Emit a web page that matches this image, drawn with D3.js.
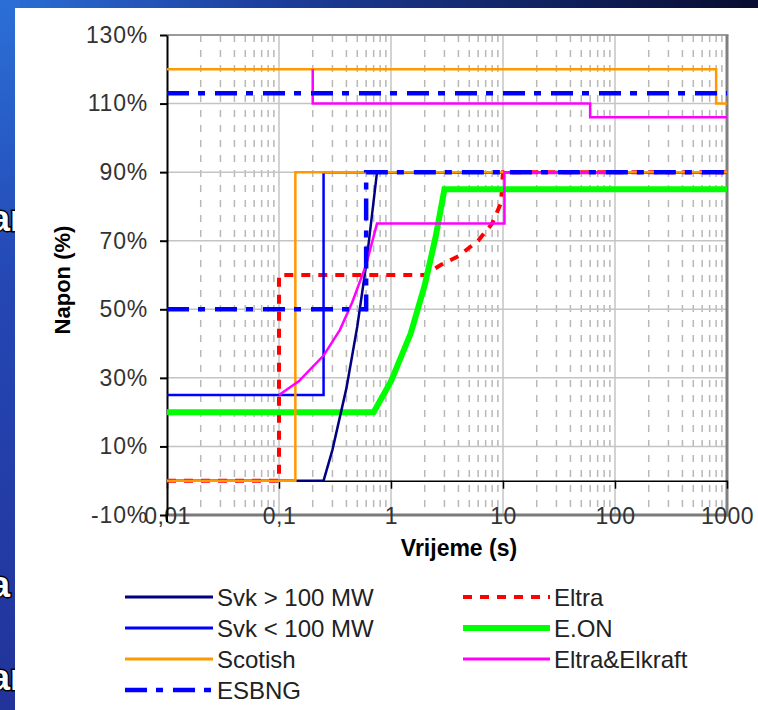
<!DOCTYPE html>
<html>
<head>
<meta charset="utf-8">
<script src="https://cdn.jsdelivr.net/npm/d3@7"></script>
<style>
  body { margin: 0; }
  svg { display: block; }
</style>
</head>
<body>
<div id="chart"></div>
<script>
// x ticks / y ticks
var xTickValues = [0.01, 0.1, 1, 10, 100, 1000];
var xTickLabels = ["0,01", "0,1", "1", "10", "100", "1000"];
var yTickValues = [-10, 10, 30, 50, 70, 90, 110, 130];

// series: [time (s), napon (%)]
var svkHigh = [[0.01,0],[0.25,0],[0.3,9],[0.4,27],[0.5,45],[0.6,63],[0.75,90],[1000,90]];
var svkLow = [[0.01,25],[0.25,25],[0.25,90],[1000,90]];
var scotishLow = [[0.01,0],[0.14,0],[0.14,90],[1000,90]];
var scotishHigh = [[0.01,120],[800,120],[800,110],[1000,110]];
var esbngLow = [[0.01,50],[0.6,50],[0.6,90],[1000,90]];
var esbngHigh = [[0.01,113],[1000,113]];
var eltraLow = [[0.01,0],[0.1,0],[0.1,60],[2,60],[2.8,63],[4,65.5],[6,70],[8,75],[9.6,81],[10,90],[1000,90]];
var eonLow = [[0.01,20],[0.7,20],[1,29],[1.5,43],[2,57],[2.5,71],[3,85],[1000,85]];
var elkraftLow = [[0.1,25],[0.15,29],[0.25,36.5],[0.35,44],[0.45,52],[0.6,63],[0.75,75],[10.3,75],[10.3,90],[100,90]];
var elkraftHigh = [[0.2,120],[0.2,110],[60,110],[60,106],[1000,106]];

var legendLeft = ["Svk > 100 MW", "Svk < 100 MW", "Scotish", "ESBNG"];
var legendRight = ["Eltra", "E.ON", "Eltra&Elkraft"];

var styles = {
  "Svk > 100 MW": {color: "#000080", width: 2.5, dash: null},
  "Svk < 100 MW": {color: "#0000ff", width: 2.5, dash: null},
  "Scotish": {color: "#ff9900", width: 2.5, dash: null},
  "ESBNG": {color: "#0000ff", width: 4.5, dash: "22,9,7,10"},
  "Eltra": {color: "#ff0000", width: 4, dash: "9,8"},
  "E.ON": {color: "#00ff00", width: 6, dash: null},
  "Eltra&Elkraft": {color: "#ff00ff", width: 2.5, dash: null}
};

// draw order bottom -> top
var series = [
  {name: "Eltra", parts: [eltraLow]},
  {name: "E.ON", parts: [eonLow]},
  {name: "Svk > 100 MW", parts: [svkHigh]},
  {name: "Svk < 100 MW", parts: [svkLow]},
  {name: "Scotish", parts: [scotishLow, scotishHigh]},
  {name: "Eltra&Elkraft", parts: [elkraftLow, elkraftHigh]},
  {name: "ESBNG", parts: [esbngLow, esbngHigh]}
];

var W = 758, H = 710;
var svg = d3.select("#chart").append("svg")
    .attr("width", W)
    .attr("height", H);

// slide background behind the white panel
var defs = svg.append("defs");
var gr = defs.append("linearGradient").attr("id", "bgTop")
    .attr("x1", 0).attr("y1", 0).attr("x2", 1).attr("y2", 0);
gr.append("stop").attr("offset", "0%").attr("stop-color", "#2b6fd6");
gr.append("stop").attr("offset", "35%").attr("stop-color", "#1d3f9e");
gr.append("stop").attr("offset", "100%").attr("stop-color", "#080c30");
var gl = defs.append("linearGradient").attr("id", "bgLeft")
    .attr("x1", 0).attr("y1", 0).attr("x2", 0).attr("y2", 1);
gl.append("stop").attr("offset", "0%").attr("stop-color", "#2b6fd6");
gl.append("stop").attr("offset", "40%").attr("stop-color", "#2447b4");
gl.append("stop").attr("offset", "100%").attr("stop-color", "#22339a");

svg.append("rect").attr("width", W).attr("height", H).attr("fill", "url(#bgTop)");
svg.append("rect").attr("width", 20).attr("height", H).attr("fill", "url(#bgLeft)");

// slide text peeking out at the left edge (cut by the panel)
var peek = [["ar", 231], ["a", 597], ["ar", 690]];
peek.forEach(function(p) {
  svg.append("text").attr("x", -10).attr("y", p[1])
    .attr("font-family", "Liberation Sans, Arial, sans-serif")
    .attr("font-weight", "bold").attr("font-size", 36)
    .attr("fill", "#fff")
    .attr("stroke", "#000").attr("stroke-width", 3)
    .attr("paint-order", "stroke")
    .text(p[0]);
});

svg.append("rect").attr("x", 15).attr("y", 8)
    .attr("width", W - 15).attr("height", H - 8).attr("fill", "#fff");

var x = d3.scaleLog().domain([0.01, 1000]).range([167, 727]);
var y = d3.scaleLinear().domain([-10, 130]).range([515, 35]);

var isMajor = function(d) { return Math.abs(Math.log10(d) - Math.round(Math.log10(d))) < 1e-9; };

// grid
var grid = svg.append("g");
grid.selectAll(".minor")
  .data(x.ticks().filter(function(d) { return !isMajor(d); }))
  .enter().append("line")
    .attr("x1", function(d) { return x(d); }).attr("x2", function(d) { return x(d); })
    .attr("y1", y(130)).attr("y2", y(-10))
    .attr("stroke", "#b8b8b8").attr("stroke-width", 1.5)
    .attr("stroke-dasharray", "7,8");
grid.selectAll(".vmajor")
  .data(xTickValues.slice(1, -1))
  .enter().append("line")
    .attr("x1", function(d) { return x(d); }).attr("x2", function(d) { return x(d); })
    .attr("y1", y(130)).attr("y2", y(-10))
    .attr("stroke", "#c4c4c4").attr("stroke-width", 1.5);
grid.selectAll(".hmajor")
  .data(yTickValues.slice(1, -1))
  .enter().append("line")
    .attr("x1", x(0.01)).attr("x2", x(1000))
    .attr("y1", function(d) { return y(d); }).attr("y2", function(d) { return y(d); })
    .attr("stroke", "#c4c4c4").attr("stroke-width", 1.5);

// frame
svg.append("line").attr("x1", x(0.01)).attr("x2", x(1000) + 1.5)
    .attr("y1", y(130)).attr("y2", y(130))
    .attr("stroke", "#9a9a9a").attr("stroke-width", 2);
svg.append("line").attr("x1", x(1000)).attr("x2", x(1000))
    .attr("y1", y(130)).attr("y2", y(-10) + 1.5)
    .attr("stroke", "#808080").attr("stroke-width", 3);
svg.append("line").attr("x1", x(0.01)).attr("x2", x(1000) + 1.5)
    .attr("y1", y(-10)).attr("y2", y(-10))
    .attr("stroke", "#7a7a7a").attr("stroke-width", 3);

// x axis sits on 0 %
var xAxis = svg.append("g")
    .attr("transform", "translate(0," + y(0) + ")")
    .call(d3.axisBottom(x).tickValues(xTickValues)
      .tickFormat(function(d, i) { return xTickLabels[i]; })
      .tickSize(8).tickSizeOuter(0).tickPadding(19));
xAxis.select(".domain").attr("stroke", "#000").attr("stroke-width", 1.5);
xAxis.selectAll(".tick line").attr("stroke", "#000").attr("stroke-width", 1.5);
xAxis.selectAll("text")
    .attr("font-family", "Liberation Sans, Arial, sans-serif")
    .attr("font-size", 23).attr("letter-spacing", 0.5).attr("fill", "#333");

var yAxis = svg.append("g")
    .attr("transform", "translate(" + x(0.01) + ",0)")
    .call(d3.axisLeft(y).tickValues(yTickValues)
      .tickFormat(function(d) { return d + "%"; })
      .tickSize(7).tickSizeOuter(0).tickPadding(12));
yAxis.select(".domain").attr("stroke", "#000").attr("stroke-width", 2);
yAxis.selectAll(".tick line").attr("stroke", "#000").attr("stroke-width", 2);
yAxis.selectAll("text")
    .attr("font-family", "Liberation Sans, Arial, sans-serif")
    .attr("font-size", 23).attr("letter-spacing", 0.8).attr("fill", "#333");
svg.append("line").attr("x1", x(0.01)).attr("x2", x(0.01))
    .attr("y1", y(-10)).attr("y2", y(-10) + 7)
    .attr("stroke", "#000").attr("stroke-width", 2);

// series
var line = d3.line()
    .x(function(d) { return x(d[0]); })
    .y(function(d) { return y(d[1]); });

series.forEach(function(s) {
  var st = styles[s.name];
  svg.append("g").selectAll("path")
    .data(s.parts)
    .enter().append("path")
      .attr("d", line)
      .attr("fill", "none")
      .attr("stroke", st.color)
      .attr("stroke-width", st.width)
      .attr("stroke-dasharray", st.dash);
});

// axis titles
svg.append("text")
    .attr("transform", "translate(70,280) rotate(-90)")
    .attr("text-anchor", "middle")
    .attr("font-family", "Liberation Sans, Arial, sans-serif")
    .attr("font-weight", "bold").attr("font-size", 22)
    .attr("fill", "#000")
    .text("Napon (%)");
svg.append("text")
    .attr("x", 459).attr("y", 556)
    .attr("text-anchor", "middle")
    .attr("font-family", "Liberation Sans, Arial, sans-serif")
    .attr("font-weight", "bold").attr("font-size", 23)
    .attr("fill", "#000")
    .text("Vrijeme (s)");

// legend
function drawLegend(names, x0, lineLen) {
  var g = svg.append("g");
  names.forEach(function(n, i) {
    var st = styles[n];
    var yy = 597 + i * 31;
    g.append("line")
      .attr("x1", x0).attr("x2", x0 + lineLen)
      .attr("y1", yy).attr("y2", yy)
      .attr("stroke", st.color)
      .attr("stroke-width", n == "E.ON" ? 6 : Math.max(st.width, 3))
      .attr("stroke-dasharray", st.dash);
    g.append("text")
      .attr("x", x0 + lineLen + 4).attr("y", yy + 9)
      .attr("font-family", "Liberation Sans, Arial, sans-serif")
      .attr("font-size", 24).attr("fill", "#222")
      .text(n);
  });
}
drawLegend(legendLeft, 125, 88);
drawLegend(legendRight, 463, 87);
</script>
</body>
</html>
